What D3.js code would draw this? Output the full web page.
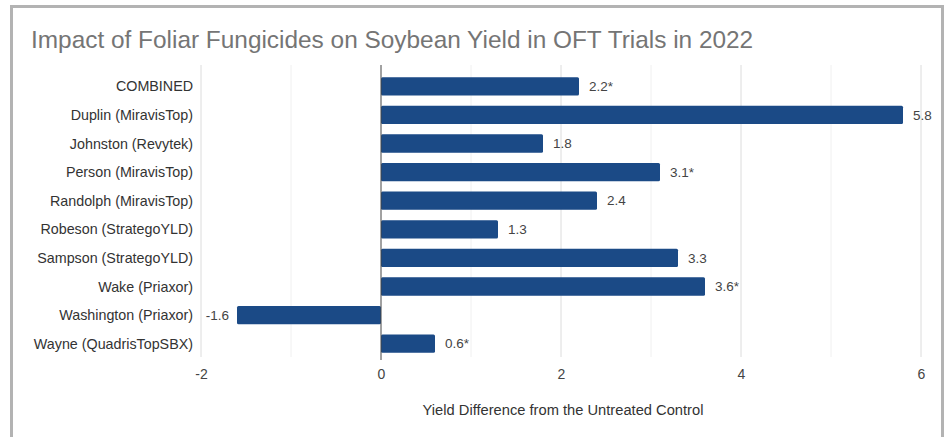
<!DOCTYPE html>
<html>
<head>
<meta charset="utf-8">
<script src="https://cdn.jsdelivr.net/npm/d3@7"></script>
<style>
  body { margin: 0; background: #fff; }
  text { font-family: "Liberation Sans", Arial, sans-serif; }
</style>
</head>
<body>
<div id="chart"></div>
<script>
const categories = ["COMBINED", "Duplin (MiravisTop)", "Johnston (Revytek)", "Person (MiravisTop)",
  "Randolph (MiravisTop)", "Robeson (StrategoYLD)", "Sampson (StrategoYLD)", "Wake (Priaxor)",
  "Washington (Priaxor)", "Wayne (QuadrisTopSBX)"];
const values = [2.2, 5.8, 1.8, 3.1, 2.4, 1.3, 3.3, 3.6, -1.6, 0.6];
const labels = ["2.2*", "5.8", "1.8", "3.1*", "2.4", "1.3", "3.3", "3.6*", "-1.6", "0.6*"];
const ticks = [-2, 0, 2, 4, 6];
const minorTicks = [-1, 1, 3, 5];

const width = 948, height = 437;
const svg = d3.select("#chart").append("svg")
  .attr("width", width).attr("height", height);

// frame
svg.append("path")
  .attr("d", "M11.5,450 L11.5,6.5 L942.5,6.5 L942.5,450")
  .attr("fill", "none").attr("stroke", "#b3b3b3").attr("stroke-width", 3);

svg.append("text")
  .attr("x", 31).attr("y", 48)
  .attr("font-size", 24.4).attr("fill", "#757575")
  .text("Impact of Foliar Fungicides on Soybean Yield in OFT Trials in 2022");

const x = d3.scaleLinear().domain([-2, 6]).range([201, 921]);
const y = d3.scaleBand().domain(categories).range([72, 358]).paddingInner(0.36).paddingOuter(0.18);

const gTop = 65, gBottom = 357;

svg.append("g").selectAll("line")
  .data(minorTicks).enter().append("line")
  .attr("x1", d => x(d)).attr("x2", d => x(d))
  .attr("y1", gTop).attr("y2", gBottom)
  .attr("stroke", "#f0f0f0");

svg.append("g").selectAll("line")
  .data(ticks.filter(t => t !== 0)).enter().append("line")
  .attr("x1", d => x(d)).attr("x2", d => x(d))
  .attr("y1", gTop).attr("y2", gBottom)
  .attr("stroke", "#dcdcdc");

svg.append("g").selectAll("rect")
  .data(values).enter().append("rect")
  .attr("x", d => Math.min(x(0), x(d)))
  .attr("y", (d, i) => y(categories[i]))
  .attr("width", d => Math.abs(x(d) - x(0)))
  .attr("height", y.bandwidth())
  .attr("rx", 1.5)
  .attr("fill", "#1b4a86");

svg.append("line")
  .attr("x1", x(0)).attr("x2", x(0))
  .attr("y1", gTop).attr("y2", gBottom + 3)
  .attr("stroke", "#444").attr("stroke-width", 1);

svg.append("g").selectAll("text")
  .data(values).enter().append("text")
  .attr("x", d => d < 0 ? x(d) - 8 : x(d) + 10)
  .attr("y", (d, i) => y(categories[i]) + y.bandwidth() / 2)
  .attr("dy", "0.35em")
  .attr("text-anchor", d => d < 0 ? "end" : "start")
  .attr("font-size", 13.5).attr("fill", "#444")
  .text((d, i) => labels[i]);

svg.append("g").selectAll("text")
  .data(categories).enter().append("text")
  .attr("x", 193)
  .attr("y", d => y(d) + y.bandwidth() / 2)
  .attr("dy", "0.35em")
  .attr("text-anchor", "end")
  .attr("font-size", 14.3).attr("fill", "#333")
  .text(d => d);

const xAxis = d3.axisBottom(x).tickValues(ticks).tickFormat(d => String(d)).tickSize(0).tickPadding(0);
const ax = svg.append("g").attr("transform", `translate(0,${gBottom})`).call(xAxis);
ax.select(".domain").remove();
ax.selectAll("text").attr("font-size", 14).attr("fill", "#444").attr("dy", "1.55em")
  .style("font-family", "'Liberation Sans', Arial, sans-serif");

svg.append("text")
  .attr("x", 563).attr("y", 415)
  .attr("text-anchor", "middle")
  .attr("font-size", 14.7).attr("fill", "#333")
  .text("Yield Difference from the Untreated Control");
</script>
</body>
</html>
